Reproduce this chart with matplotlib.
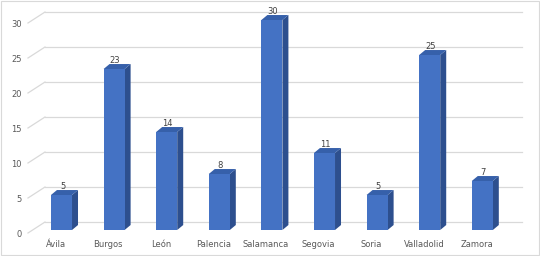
import matplotlib
matplotlib.use("Agg")
import matplotlib.pyplot as plt
from matplotlib.patches import Polygon, Rectangle

categories = ["Ávila", "Burgos", "León", "Palencia", "Salamanca", "Segovia", "Soria", "Valladolid", "Zamora"]
values = [5, 23, 14, 8, 30, 11, 5, 25, 7]
yticks = [0, 5, 10, 15, 20, 25, 30]

front_c = "#4472C4"
side_c = "#2D4F8E"
top_c = "#3660AA"
grid_c = "#D9D9D9"
text_c = "#595959"

fig = plt.figure(figsize=(5.4, 2.56), dpi=100)
ax = fig.add_axes([0, 0, 1, 1])
ax.set_xlim(-1.169, 9.097)
ax.set_ylim(-3.714, 32.857)
ax.axis("off")

bw = 0.4
ddx, ddy = 0.114, 0.71     # bar depth
wdx_l, wdy = -0.314, 1.14   # back wall left x, wall vertical offset
wall_r = 8.755
front_l, front_dy = -0.637, -0.43

# back wall gridlines + floor diagonals
for t in yticks:
    ax.plot([wdx_l, wall_r], [t + wdy, t + wdy], color=grid_c, lw=0.9, zorder=1)
    ax.plot([front_l, wdx_l], [t + front_dy, t + wdy], color=grid_c, lw=0.9, zorder=1)
    ax.text(-0.76, t + front_dy - 0.25, str(t), ha="right", va="center",
            fontsize=6, color=text_c, family="DejaVu Sans")

for i, v in enumerate(values):
    x0, x1 = i - bw / 2, i + bw / 2
    side = Polygon([(x1, 0), (x1 + ddx, ddy), (x1 + ddx, v + ddy), (x1, v)],
                   closed=True, fc=side_c, ec="none", zorder=3)
    top = Polygon([(x0, v), (x1, v), (x1 + ddx, v + ddy), (x0 + ddx, v + ddy)],
                  closed=True, fc=top_c, ec="none", zorder=3)
    ax.add_patch(side)
    ax.add_patch(top)
    ax.bar(i, v, width=bw, bottom=0, color=front_c, zorder=4)
    ax.text(i + 0.02, v + 1.15, str(v), ha="center", va="center", fontsize=6,
            color="#404040", family="DejaVu Sans", zorder=5)
    ax.text(i - 0.11, -2.14, categories[i], ha="center", va="center", fontsize=6,
            color=text_c, family="DejaVu Sans")

fig.patches.append(Rectangle((0.002, 0.004), 0.996, 0.992, transform=fig.transFigure,
                             fill=False, ec="#D9D9D9", lw=0.8))

fig.savefig("out.png", dpi=100)
